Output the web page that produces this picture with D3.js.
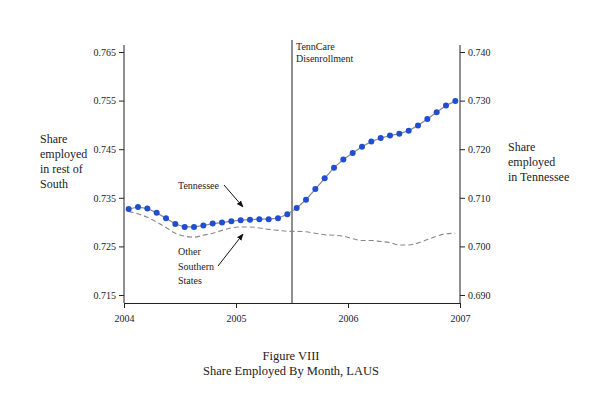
<!DOCTYPE html>
<html lang="en">
<head>
<meta charset="utf-8">
<title>Figure VIII</title>
<script src="https://cdnjs.cloudflare.com/ajax/libs/d3/7.8.5/d3.min.js"></script>
<style>
  body { margin: 0; background: #fff; }
  text { font-family: "Liberation Serif", serif; fill: #222; }
</style>
</head>
<body>
<div id="chart"></div>
<script>
// monthly data, Jan 2004 - Dec 2006
var tennessee = [0.7077, 0.7081, 0.7078, 0.7069, 0.7058, 0.7046, 0.7040, 0.7040, 0.7043, 0.7047, 0.7049, 0.7052,
                 0.7054, 0.7055, 0.7056, 0.7056, 0.7058, 0.7066, 0.7079, 0.7096, 0.7118, 0.7140, 0.7162, 0.7179,
                 0.7192, 0.7205, 0.7216, 0.7223, 0.7228, 0.7232, 0.7238, 0.7249, 0.7262, 0.7276, 0.7290, 0.7299];
var otherSouth = [0.7322, 0.7317, 0.7310, 0.7300, 0.7289, 0.7277, 0.7271, 0.7269, 0.7273, 0.7277, 0.7283, 0.7288,
                  0.7290, 0.7290, 0.7288, 0.7285, 0.7283, 0.7281, 0.7281, 0.7280, 0.7277, 0.7274, 0.7273, 0.7271,
                  0.7266, 0.7262, 0.7262, 0.7260, 0.7258, 0.7253, 0.7253, 0.7257, 0.7264, 0.7271, 0.7276, 0.7277];
var leftTicks = [0.715, 0.725, 0.735, 0.745, 0.755, 0.765];
var rightTicks = [0.690, 0.700, 0.710, 0.720, 0.730, 0.740];
var yearTicks = [2004, 2005, 2006, 2007];
var disenroll = 2005.5;

var width = 598, height = 410;
var svg = d3.select("#chart").append("svg").attr("width", width).attr("height", height);

var x = d3.scaleLinear().domain([2004, 2007]).range([124, 460]);
var yL = d3.scaleLinear().domain([0.715, 0.765]).range([295, 52]);
var yR = d3.scaleLinear().domain([0.690, 0.740]).range([295, 52]);
function month(i) { return 2004 + (i + 0.5) / 12; }

// axes
var gl = svg.append("g").attr("transform", "translate(124,0)")
    .call(d3.axisLeft(yL).tickValues(leftTicks).tickFormat(d3.format(".3f")).tickSize(5).tickSizeOuter(0));
var gr = svg.append("g").attr("transform", "translate(460,0)")
    .call(d3.axisRight(yR).tickValues(rightTicks).tickFormat(d3.format(".3f")).tickSize(5).tickSizeOuter(0));
var gb = svg.append("g").attr("transform", "translate(0,303)")
    .call(d3.axisBottom(x).tickValues(yearTicks).tickFormat(d3.format("d")).tickSize(5).tickSizeOuter(0));
[gl, gr, gb].forEach(function(g) {
    g.selectAll("text").attr("font-size", "10px").style("font-family", "Liberation Serif");
    g.selectAll("line,path").attr("stroke", "#222");
});
gl.select(".domain").attr("d", "M0,45V303");
gr.select(".domain").attr("d", "M0,45V303");
gb.selectAll("text").attr("dy", "1.1em");

// disenrollment line
svg.append("line").attr("x1", x(disenroll)).attr("x2", x(disenroll))
    .attr("y1", 40).attr("y2", 303).attr("stroke", "#444").attr("stroke-width", 1.2);

// other southern states (left axis)
svg.append("path").datum(otherSouth)
    .attr("fill", "none").attr("stroke", "#888").attr("stroke-width", 1.1).attr("stroke-dasharray", "5,3")
    .attr("d", d3.line().curve(d3.curveMonotoneX).x(function(d, i) { return x(month(i)); }).y(function(d) { return yL(d); }));

// tennessee (right axis)
svg.append("path").datum(tennessee)
    .attr("fill", "none").attr("stroke", "#888").attr("stroke-width", 1.2)
    .attr("d", d3.line().x(function(d, i) { return x(month(i)); }).y(function(d) { return yR(d); }));
svg.selectAll("circle.tn").data(tennessee).enter().append("circle")
    .attr("cx", function(d, i) { return x(month(i)); })
    .attr("cy", function(d) { return yR(d); })
    .attr("r", 3).attr("fill", "#1f4fd0");

// arrows
svg.append("defs").append("marker").attr("id", "ah").attr("viewBox", "0 0 10 10")
    .attr("refX", 9).attr("refY", 5).attr("markerWidth", 7).attr("markerHeight", 7).attr("orient", "auto")
    .append("path").attr("d", "M0,1L10,5L0,9z").attr("fill", "#111");
svg.append("line").attr("x1", 224).attr("y1", 185).attr("x2", 243).attr("y2", 207)
    .attr("stroke", "#111").attr("marker-end", "url(#ah)");
svg.append("line").attr("x1", 218).attr("y1", 266).attr("x2", 243).attr("y2", 234)
    .attr("stroke", "#111").attr("marker-end", "url(#ah)");

function lines(arr, xx, y0, dy, size, anchor) {
    arr.forEach(function(t, i) {
        svg.append("text").attr("x", xx).attr("y", y0 + i * dy).attr("font-size", size)
            .attr("text-anchor", anchor || "start").text(t);
    });
}
lines(["Tennessee"], 178, 189, 14, "10px");
lines(["Other", "Southern", "States"], 178, 255, 14.5, "10px");
lines(["TennCare", "Disenrollment"], 296, 50, 12, "10px");
lines(["Share", "employed", "in rest of", "South"], 40, 143, 15, "12px");
lines(["Share", "employed", "in Tennessee"], 508, 151, 15, "12px");
lines(["Figure VIII", "Share Employed By Month, LAUS"], 291, 360, 15, "12.5px", "middle");
</script>
</body>
</html>
